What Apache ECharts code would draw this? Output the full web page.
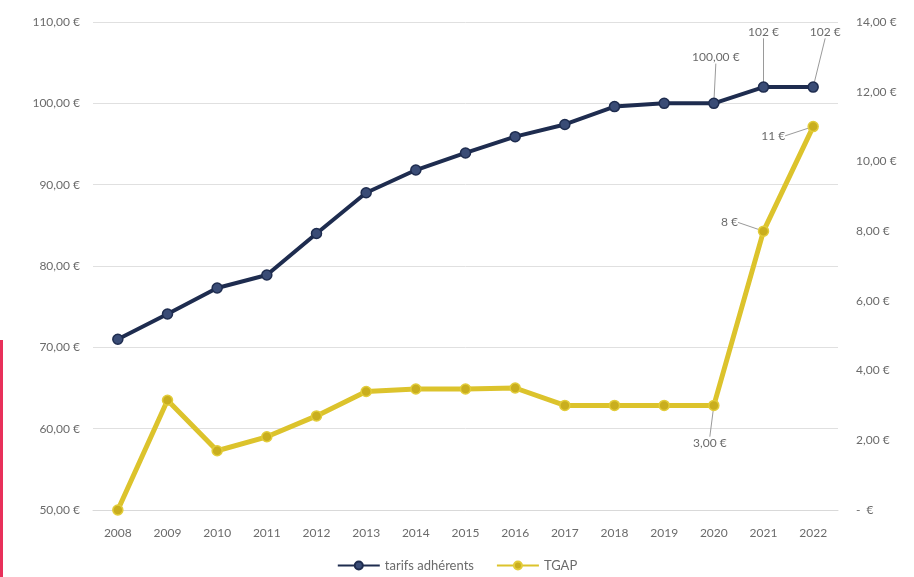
<!DOCTYPE html>
<html>
<head>
<meta charset="utf-8">
<script src="https://cdn.jsdelivr.net/npm/echarts@6/dist/echarts.min.js"></script>
<style>
html, body { margin: 0; padding: 0; background: #fff; }
#main { width: 914px; height: 577px; }
</style>
</head>
<body>
<div id="main"></div>
<script>
var myChart = echarts.init(document.getElementById('main'));

// années, tarifs adhérents (axe gauche), TGAP (axe droit)
var years = ['2008', '2009', '2010', '2011', '2012', '2013', '2014', '2015',
             '2016', '2017', '2018', '2019', '2020', '2021', '2022'];
var tarifs = [71, 74.1, 77.3, 78.9, 84, 89, 91.8, 93.9, 95.9, 97.4, 99.6, 100, 100, 102, 102];
var tgap = [0, 3.15, 1.7, 2.1, 2.7, 3.4, 3.47, 3.47, 3.5, 3, 3, 3, 3, 8, 11];
var leftTicks = ['50,00 €', '60,00 €', '70,00 €', '80,00 €', '90,00 €', '100,00 €', '110,00 €'];
var rightTicks = ['-  €', '2,00 €', '4,00 €', '6,00 €', '8,00 €', '10,00 €', '12,00 €', '14,00 €'];
// étiquettes affichées sur certains points
var tarifsLabels = {12: '100,00 €', 13: '102 €', 14: '102 €'};
var tgapLabels = {12: '3,00 €', 13: '8 €', 14: '11 €'};

var textColor = '#6b6b6b';
var fontFamily = 'Lato, "Open Sans", sans-serif';

function withLabels(values, labels) {
    return values.map(function (v, i) {
        if (labels[i] !== undefined) {
            return { value: v, label: { show: true, formatter: labels[i] } };
        }
        return v;
    });
}

// décalages des étiquettes (dx, dy) par point
var tarifsOffsets = {12: [2, -29], 13: [0, -38], 14: [12, -38]};
var tgapOffsets = {12: [-4, 54], 13: [-34, 8], 14: [-40, 26]};

option = {
    backgroundColor: '#ffffff',
    textStyle: { fontFamily: fontFamily },
    grid: { left: 93, right: 76, top: 22, bottom: 67 },
    legend: {
        bottom: 0,
        left: 'center',
        itemWidth: 42,
        itemHeight: 10,
        itemGap: 22,
        textStyle: { color: textColor, fontSize: 13, fontFamily: fontFamily },
        data: ['tarifs adhérents', 'TGAP']
    },
    xAxis: {
        type: 'category',
        data: years,
        boundaryGap: true,
        axisLine: { lineStyle: { color: '#d9d9d9', width: 1 } },
        axisTick: { show: false },
        axisLabel: { color: textColor, fontSize: 12, margin: 17 }
    },
    yAxis: [{
        type: 'value',
        min: 50,
        max: 110,
        interval: 10,
        axisLine: { show: false },
        axisTick: { show: false },
        axisLabel: {
            color: textColor, fontSize: 12, margin: 13,
            formatter: function (v) { return leftTicks[(v - 50) / 10]; }
        },
        splitLine: { lineStyle: { color: '#e0e0e0', width: 1 } }
    }, {
        type: 'value',
        min: 0,
        max: 14,
        interval: 2,
        axisLine: { show: false },
        axisTick: { show: false },
        axisLabel: {
            color: textColor, fontSize: 12, margin: 18,
            formatter: function (v) { return rightTicks[v / 2]; }
        },
        splitLine: { show: false }
    }],
    series: [{
        name: 'tarifs adhérents',
        type: 'line',
        yAxisIndex: 0,
        data: withLabels(tarifs, tarifsLabels),
        symbol: 'circle',
        symbolSize: 10,
        lineStyle: { color: '#1e2c4f', width: 4 },
        itemStyle: { color: '#3a4c76', borderColor: '#1e2c4f', borderWidth: 1.5 },
        label: { show: false, color: textColor, fontSize: 12, position: 'top' },
        labelLine: { show: true, lineStyle: { color: '#9a9a9a', width: 1 } },
        labelLayout: function (params) {
            var o = tarifsOffsets[params.dataIndex];
            return o ? { dx: o[0], dy: o[1] } : {};
        },
        z: 3
    }, {
        name: 'TGAP',
        type: 'line',
        yAxisIndex: 1,
        data: withLabels(tgap, tgapLabels),
        symbol: 'circle',
        symbolSize: 10,
        lineStyle: { color: '#dcc32c', width: 5 },
        itemStyle: { color: '#c9ae1e', borderColor: '#e2cc3a', borderWidth: 1.5 },
        label: { show: false, color: textColor, fontSize: 12, position: 'top' },
        labelLine: { show: true, lineStyle: { color: '#9a9a9a', width: 1 } },
        labelLayout: function (params) {
            var o = tgapOffsets[params.dataIndex];
            return o ? { dx: o[0], dy: o[1] } : {};
        },
        z: 2
    }],
    graphic: [{
        type: 'rect',
        left: 0,
        top: 340,
        shape: { width: 3, height: 237 },
        style: { fill: '#e8305a' },
        silent: true
    }]
};

myChart.setOption(option);
</script>
</body>
</html>
